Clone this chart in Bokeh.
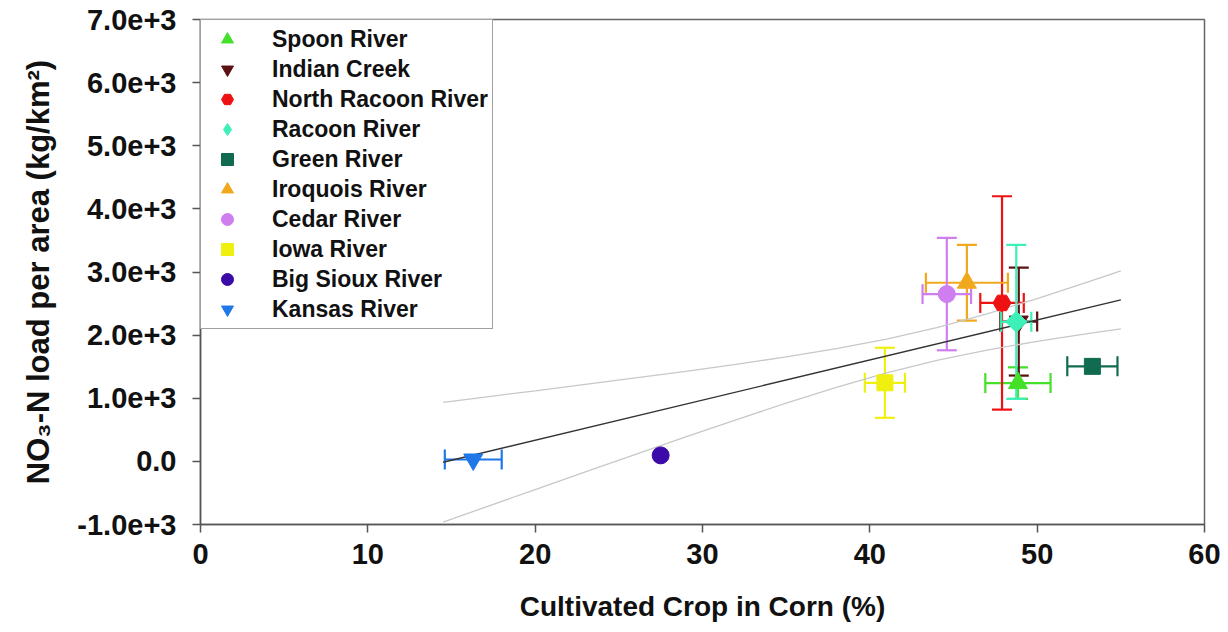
import math
from bokeh.plotting import figure
from bokeh.models import (ColumnDataSource, Range1d, FixedTicker, Whisker, TeeHead,
                          Legend, LegendItem)
from bokeh.embed import file_html
from bokeh.resources import INLINE

# Watershed summary: corn share of cultivated crop vs. NO3-N areal load
rivers = ["Spoon River", "Indian Creek", "North Racoon River", "Racoon River", "Green River",
          "Iroquois River", "Cedar River", "Iowa River", "Big Sioux River", "Kansas River"]
corn_pct = [48.85, 48.9, 47.9, 48.75, 53.3, 45.8, 44.6, 40.9, 27.5, 16.3]
corn_err = [1.95, 1.1, 1.3, 0.9, 1.5, 2.45, 1.45, 1.2, 0.0, 1.7]
no3_load = [1240, 2215, 2510, 2210, 1505, 2830, 2650, 1245, 95, 30]
no3_err = [250, 855, 1690, 1220, 0, 600, 890, 555, 0, 0]
colors = ["#44e02a", "#5c1010", "#ee1111", "#3df0b8", "#116b50",
          "#f2a81d", "#cf7ef0", "#f0f010", "#3b0aa8", "#1f77e8"]
markers = ["triangle", "inverted_triangle", "hex", "diamond", "square",
           "triangle", "circle", "square", "circle", "inverted_triangle"]

# Linear regression line and its 95% confidence band
fit_x = [14.5, 55.0]
fit_y = [-13, 2558]
band_x = [14.5, 17, 20, 23, 26, 29, 32, 35, 38, 41, 44, 47, 50, 53, 55]
band_upper = [936, 1019, 1118, 1219, 1322, 1427, 1537, 1655, 1785, 1937, 2120, 2337, 2580, 2839, 3017]
band_lower = [-963, -728, -446, -166, 112, 388, 659, 922, 1173, 1402, 1600, 1764, 1902, 2024, 2100]

x_ticks = [0, 10, 20, 30, 40, 50, 60]
y_ticks = [-1000, 0, 1000, 2000, 3000, 4000, 5000, 6000, 7000]
y_tick_labels = ["-1.0e+3", "0.0", "1.0e+3", "2.0e+3", "3.0e+3", "4.0e+3", "5.0e+3", "6.0e+3", "7.0e+3"]

FONT = "Liberation Sans"
# (bokeh marker, size, angle) per symbol so that the shapes look equally large;
# in the plot the diamond is a square turned by 45 degrees
MARKER_STYLE = {"triangle": ("triangle", 19, 0.0),
                "inverted_triangle": ("inverted_triangle", 19, 0.0),
                "hex": ("hex", 18, 0.0),
                "diamond": ("square", 15, math.pi / 4),
                "square": ("square", 16, 0.0),
                "circle": ("circle", 17, 0.0)}

p = figure(width=1228, height=632, output_backend="svg", toolbar_location=None,
           x_range=Range1d(0, 60), y_range=Range1d(-1000, 7000),
           min_border_left=200, min_border_right=24, min_border_top=19, min_border_bottom=108)
p.grid.visible = False
p.outline_line_color = "#666666"
p.outline_line_width = 1.5
p.background_fill_color = "white"
p.border_fill_color = "white"

for ax in (p.xaxis[0], p.yaxis[0]):
    ax.axis_line_color = "#555555"
    ax.axis_line_width = 1.5
    ax.major_tick_line_color = "#555555"
    ax.major_tick_line_width = 1.5
    ax.major_tick_out = 8
    ax.major_tick_in = 0
    ax.minor_tick_out = 0
    ax.minor_tick_in = 0
    ax.major_label_text_font = FONT
    ax.major_label_text_font_style = "bold"
    ax.major_label_text_font_size = "29px"
    ax.major_label_text_color = "#111111"
    ax.axis_label_text_font = FONT
    ax.axis_label_text_font_style = "bold"
    ax.axis_label_text_color = "#111111"

p.xaxis.ticker = FixedTicker(ticks=x_ticks)
p.xaxis.major_label_standoff = 11
p.xaxis.axis_label = "Cultivated Crop in Corn (%)"
p.xaxis.axis_label_text_font_size = "28px"
p.xaxis.axis_label_standoff = 24

p.yaxis.ticker = FixedTicker(ticks=y_ticks)
p.yaxis.major_label_overrides = {t: lab for t, lab in zip(y_ticks, y_tick_labels)}
p.yaxis.major_label_standoff = 16
p.yaxis.axis_label = "NO\u2083-N load per area (kg/km\u00b2)"
p.yaxis.axis_label_text_font_size = "31px"
p.yaxis.axis_label_standoff = 18

# confidence band and regression line
p.line(band_x, band_upper, line_color="#c8c8c8", line_width=1.3)
p.line(band_x, band_lower, line_color="#c8c8c8", line_width=1.3)
p.line(fit_x, fit_y, line_color="#333333", line_width=1.4)

items = []
for name, x, xe, y, ye, c, m in zip(rivers, corn_pct, corn_err, no3_load, no3_err, colors, markers):
    src = ColumnDataSource(dict(x=[x], y=[y], xl=[x - xe], xu=[x + xe], yl=[y - ye], yu=[y + ye]))
    if ye > 0:
        p.add_layout(Whisker(source=src, base="x", lower="yl", upper="yu", dimension="height",
                             line_color=c, line_width=2.2,
                             upper_head=TeeHead(size=20, line_color=c, line_width=2.2),
                             lower_head=TeeHead(size=20, line_color=c, line_width=2.2)))
    if xe > 0:
        p.add_layout(Whisker(source=src, base="y", lower="xl", upper="xu", dimension="width",
                             line_color=c, line_width=2.2,
                             upper_head=TeeHead(size=20, line_color=c, line_width=2.2),
                             lower_head=TeeHead(size=20, line_color=c, line_width=2.2)))
    shape, size, angle = MARKER_STYLE[m]
    r = p.scatter("x", "y", source=src, marker=shape, size=size, angle=angle,
                  fill_color=c, line_color=c)
    if angle != 0.0:
        # legend swatches are drawn unrotated, so the key gets a plain diamond symbol
        r = p.scatter(x=[float("nan")], y=[float("nan")], marker=m, size=size,
                      fill_color=c, line_color=c)
    items.append(LegendItem(label=name, renderers=[r]))

legend = Legend(items=items, location="top_left", margin=0, padding=4, spacing=0,
                label_height=30, glyph_height=30, glyph_width=44, label_standoff=23,
                label_text_font=FONT, label_text_font_style="bold",
                label_text_font_size="23px", label_text_color="#111111",
                border_line_color="#444444", border_line_width=1.5,
                background_fill_color="white", background_fill_alpha=1.0)
p.add_layout(legend)

open("out.html", "w").write(file_html(p, INLINE))
